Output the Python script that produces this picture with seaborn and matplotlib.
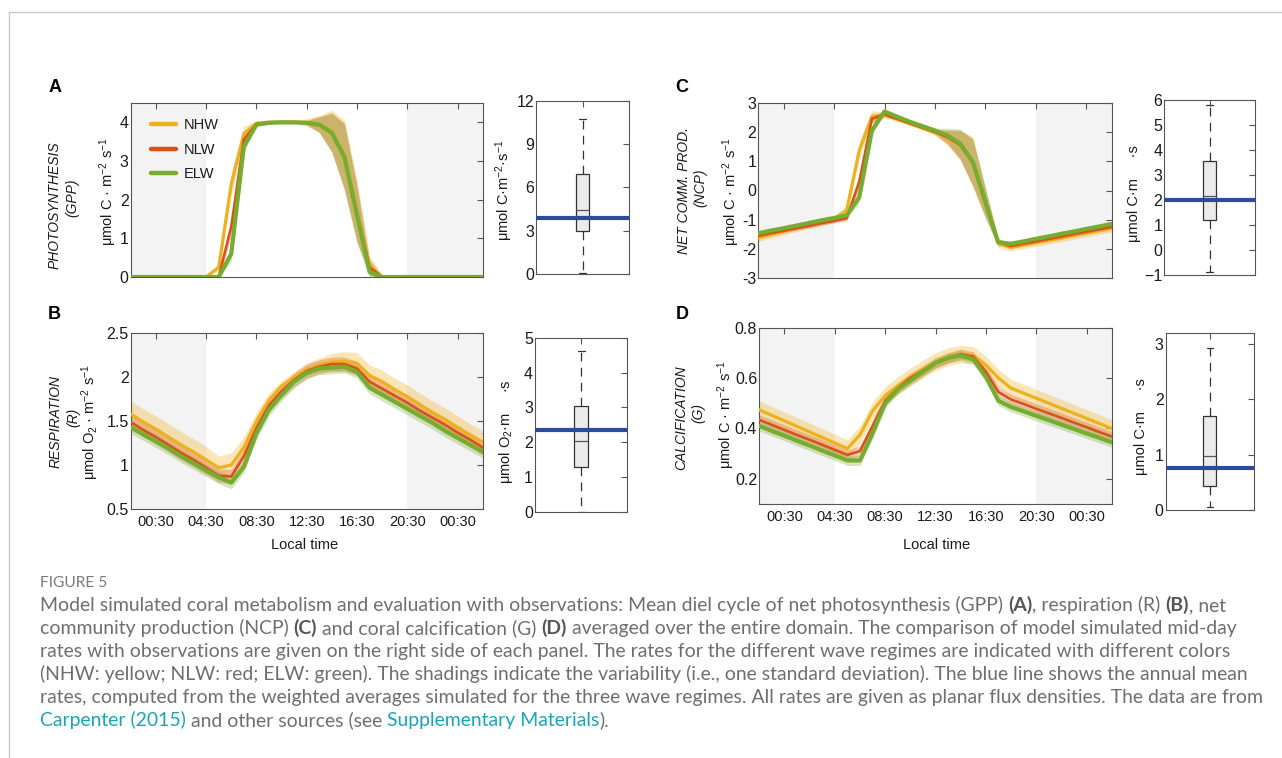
import numpy as np
import pandas as pd
import matplotlib
matplotlib.use("Agg")
import matplotlib.pyplot as plt
import seaborn as sns
from matplotlib.lines import Line2D
from matplotlib.font_manager import FontProperties

# ---------------- data ----------------
time_h = [-1.5, -0.5, 0.5, 1.5, 2.5, 3.5, 4.5, 5.5, 6.5, 7.5, 8.5, 9.5, 10.5, 11.5,
          12.5, 13.5, 14.5, 15.5, 16.5, 17.5, 18.5, 19.5, 20.5, 21.5, 22.5, 23.5,
          24.5, 25.5, 26.5]
xtick_pos = [0.5, 4.5, 8.5, 12.5, 16.5, 20.5, 24.5]
xtick_labels = ["00:30", "04:30", "08:30", "12:30", "16:30", "20:30", "00:30"]
regimes = ["NHW", "NLW", "ELW"]

# Photosynthesis (GPP)
gpp_nhw = [0, 0, 0, 0, 0, 0, 0, 0.25, 2.4, 3.7, 3.97, 4.0, 4.0, 4.0, 3.99, 3.95, 3.76,
           3.15, 1.7, 0.3, 0, 0, 0, 0, 0, 0, 0, 0, 0]
gpp_nlw = [0, 0, 0, 0, 0, 0, 0, 0, 1.3, 3.55, 3.95, 3.99, 4.0, 4.0, 3.99, 3.94, 3.74,
           3.12, 1.65, 0.25, 0, 0, 0, 0, 0, 0, 0, 0, 0]
gpp_elw = [0, 0, 0, 0, 0, 0, 0, 0, 0.6, 3.37, 3.93, 3.98, 3.99, 3.99, 3.98, 3.93, 3.72,
           3.1, 1.6, 0.13, 0, 0, 0, 0, 0, 0, 0, 0, 0]
gpp_sd_nhw = [0, 0, 0, 0, 0, 0, 0, 0.1, 0.3, 0.2, 0.05, 0.03, 0.03, 0.03, 0.1, 0.22,
              0.55, 0.9, 0.8, 0.25, 0.05, 0, 0, 0, 0, 0, 0, 0, 0]
gpp_sd_nlw = [0, 0, 0, 0, 0, 0, 0, 0.05, 0.25, 0.15, 0.04, 0.02, 0.02, 0.02, 0.06, 0.2,
              0.5, 0.85, 0.75, 0.2, 0.03, 0, 0, 0, 0, 0, 0, 0, 0]
gpp_sd_elw = [0, 0, 0, 0, 0, 0, 0, 0, 0.2, 0.15, 0.03, 0.02, 0.02, 0.02, 0.05, 0.2,
              0.5, 0.85, 0.7, 0.15, 0.02, 0, 0, 0, 0, 0, 0, 0, 0]

# Respiration (R)
r_nhw = [1.58, 1.49, 1.41, 1.32, 1.23, 1.15, 1.06, 0.97, 1.00, 1.20, 1.50, 1.74, 1.90,
         2.00, 2.09, 2.14, 2.17, 2.18, 2.16, 2.02, 1.95, 1.86, 1.78, 1.69, 1.60, 1.52,
         1.43, 1.34, 1.26]
r_nlw = [1.49, 1.40, 1.32, 1.23, 1.14, 1.06, 0.97, 0.88, 0.87, 1.10, 1.42, 1.68, 1.84,
         1.97, 2.07, 2.12, 2.15, 2.15, 2.10, 1.95, 1.87, 1.79, 1.71, 1.62, 1.54, 1.46,
         1.37, 1.29, 1.20]
r_elw = [1.43, 1.35, 1.27, 1.19, 1.10, 1.02, 0.94, 0.86, 0.80, 0.98, 1.36, 1.63, 1.80,
         1.95, 2.05, 2.10, 2.11, 2.12, 2.06, 1.88, 1.80, 1.72, 1.64, 1.56, 1.48, 1.39,
         1.31, 1.23, 1.15]
r_sd_nhw = [0.15, 0.15, 0.15, 0.15, 0.15, 0.15, 0.15, 0.13, 0.14, 0.12, 0.1, 0.08, 0.06,
            0.06, 0.07, 0.08, 0.1, 0.11, 0.12, 0.12, 0.13, 0.13, 0.13, 0.13, 0.13, 0.13,
            0.13, 0.13, 0.13]
r_sd_nlw = [0.08] * 29
r_sd_elw = [0.07] * 29

# Net community production (NCP)
ncp_nhw = [-1.62, -1.51, -1.40, -1.29, -1.18, -1.08, -0.97, -0.68, 1.37, 2.53, 2.58,
           2.43, 2.28, 2.13, 1.98, 1.80, 1.55, 0.98, -0.45, -1.80, -1.95, -1.87, -1.79,
           -1.71, -1.63, -1.54, -1.46, -1.38, -1.30]
ncp_nlw = [-1.55, -1.46, -1.38, -1.29, -1.21, -1.12, -1.04, -0.95, 0.30, 2.45, 2.60,
           2.45, 2.30, 2.15, 2.00, 1.82, 1.55, 0.95, -0.45, -1.75, -1.90, -1.82, -1.74,
           -1.66, -1.58, -1.49, -1.41, -1.33, -1.25]
ncp_elw = [-1.46, -1.37, -1.29, -1.20, -1.11, -1.02, -0.94, -0.85, -0.23, 2.05, 2.70,
           2.52, 2.35, 2.20, 2.05, 1.88, 1.60, 0.97, -0.40, -1.77, -1.82, -1.74, -1.65,
           -1.57, -1.48, -1.40, -1.31, -1.23, -1.14]
ncp_sd_nhw = [0.12] * 7 + [0.15, 0.3, 0.2, 0.1, 0.05, 0.05, 0.06, 0.1, 0.25, 0.5, 0.85,
                           0.5, 0.15, 0.12, 0.12, 0.12, 0.12, 0.12, 0.12, 0.12, 0.12, 0.12]
ncp_sd_nlw = [0.07] * 7 + [0.1, 0.25, 0.15, 0.08, 0.04, 0.04, 0.05, 0.08, 0.25, 0.5, 0.8,
                           0.5, 0.12, 0.07, 0.07, 0.07, 0.07, 0.07, 0.07, 0.07, 0.07, 0.07]
ncp_sd_elw = [0.07] * 7 + [0.08, 0.2, 0.15, 0.08, 0.04, 0.04, 0.05, 0.08, 0.25, 0.5, 0.8,
                           0.5, 0.12, 0.07, 0.07, 0.07, 0.07, 0.07, 0.07, 0.07, 0.07, 0.07]

# Calcification (G)
g_nhw = [0.474, 0.452, 0.430, 0.408, 0.386, 0.364, 0.342, 0.320, 0.375, 0.47, 0.53, 0.57,
         0.605, 0.635, 0.665, 0.685, 0.695, 0.69, 0.652, 0.60, 0.56, 0.54, 0.52, 0.50,
         0.48, 0.46, 0.44, 0.42, 0.40]
g_nlw = [0.434, 0.414, 0.394, 0.374, 0.355, 0.335, 0.315, 0.295, 0.31, 0.41, 0.51, 0.56,
         0.60, 0.63, 0.66, 0.68, 0.695, 0.685, 0.625, 0.545, 0.515, 0.497, 0.478, 0.460,
         0.442, 0.423, 0.405, 0.386, 0.368]
g_elw = [0.410, 0.390, 0.371, 0.351, 0.332, 0.312, 0.293, 0.273, 0.273, 0.38, 0.50, 0.556,
         0.59, 0.626, 0.66, 0.68, 0.69, 0.675, 0.605, 0.51, 0.485, 0.468, 0.450, 0.433,
         0.415, 0.398, 0.380, 0.363, 0.345]
g_sd_nhw = [0.035] * 29
g_sd_nlw = [0.02] * 29
g_sd_elw = [0.02] * 29

# Observations (box plots: min, q1, median, q3, max) and annual mean (blue line)
obs_gpp = [0.1, 3.0, 4.4, 6.9, 10.7]
obs_r = [0.0, 1.28, 2.03, 3.05, 4.63]
obs_ncp = [-0.89, 1.2, 2.16, 3.56, 5.8]
obs_g = [0.05, 0.43, 0.98, 1.7, 2.93]
annual_gpp, annual_r, annual_ncp, annual_g = 3.9, 2.35, 2.0, 0.75

# ---------------- style ----------------
sns.set_theme(style="white")
plt.rcParams["font.family"] = ["Liberation Sans", "DejaVu Sans"]
plt.rcParams["mathtext.fontset"] = "custom"
plt.rcParams["mathtext.rm"] = "Liberation Sans"
plt.rcParams["mathtext.it"] = "Liberation Sans:italic"
plt.rcParams["mathtext.bf"] = "Liberation Sans:bold"

W, H = 1282, 758
fig = plt.figure(figsize=(W / 100, H / 100), dpi=100)
fig.patch.set_facecolor("white")

COL = {"NHW": "#EDB120", "NLW": "#D95319", "ELW": "#77AC30"}
LW = {"NHW": 2.3, "NLW": 1.9, "ELW": 3.0}
BAND_A = {"NHW": 0.33, "NLW": 0.3, "ELW": 0.3}
NIGHT = "#F3F3F3"
SPINE = "#555555"
TXT = "#1a1a1a"
BLUE = "#2C4B9C"
TS = 10.5
YTS = 11.5


def add_ax(l, t, r, b):
    return fig.add_axes([l / W, 1 - b / H, (r - l) / W, (b - t) / H])


def style_axes(ax):
    for s in ax.spines.values():
        s.set_color(SPINE)
        s.set_linewidth(0.8)
        s.set_visible(True)
    ax.tick_params(direction="in", top=True, right=True, length=4, width=0.8,
                   color=SPINE, labelcolor=TXT)
    ax.tick_params(axis="x", labelsize=TS, pad=4)
    ax.tick_params(axis="y", labelsize=YTS, pad=1.5)


def line_panel(ax, series, sds, ylim, yticks, yticklabels, show_x):
    ax.axvspan(time_h[0], 4.5, color=NIGHT, lw=0, zorder=0)
    ax.axvspan(20.5, time_h[-1], color=NIGHT, lw=0, zorder=0)
    for reg in regimes:
        m = np.array(series[reg])
        s = np.array(sds[reg])
        ax.fill_between(time_h, m - s, m + s, color=COL[reg], alpha=BAND_A[reg],
                        lw=0, zorder=1)
    frames = []
    for reg in regimes:
        frames.append(pd.DataFrame({"time": time_h, "value": series[reg], "regime": reg}))
    df = pd.concat(frames)
    for i, reg in enumerate(regimes):
        sns.lineplot(data=df[df.regime == reg], x="time", y="value", color=COL[reg],
                     linewidth=LW[reg], ax=ax, legend=False, zorder=3 + i)
    ax.set_xlim(time_h[0], time_h[-1])
    ax.set_ylim(*ylim)
    ax.set_yticks(yticks)
    ax.set_yticklabels(yticklabels)
    ax.set_xticks(xtick_pos)
    ax.set_xticklabels(xtick_labels if show_x else [])
    ax.set_xlabel("")
    ax.set_ylabel("")
    style_axes(ax)


def box_panel(ax, obs, annual, ylim, yticks):
    sns.boxplot(y=obs, ax=ax, whis=(0, 100), width=0.15, color="#EBEBEB",
                linecolor="#333333", linewidth=0.9,
                whiskerprops={"linestyle": (0, (7, 5))},
                medianprops={"color": "#555555"})
    ax.axhline(annual, color=BLUE, lw=3.0, zorder=10)
    ax.set_xlim(-0.5, 0.5)
    ax.set_ylim(*ylim)
    ax.set_yticks(yticks)
    ax.set_xticks([0])
    ax.set_xticklabels([""])
    ax.set_ylabel("")
    ax.set_xlabel("")
    style_axes(ax)


# ---------------- panels ----------------
axA = add_ax(130.7, 102.7, 482.7, 277)
line_panel(axA, {"NHW": gpp_nhw, "NLW": gpp_nlw, "ELW": gpp_elw},
           {"NHW": gpp_sd_nhw, "NLW": gpp_sd_nlw, "ELW": gpp_sd_elw},
           (0, 4.5), [0, 1, 2, 3, 4], ["0", "1", "2", "3", "4"], False)
handles = [Line2D([], [], color=COL[r], lw=3.2) for r in regimes]
axA.legend(handles, regimes, loc="upper left", bbox_to_anchor=(0.02, 0.985),
           frameon=False, fontsize=TS, handlelength=1.75, labelspacing=0.72,
           handletextpad=0.5, labelcolor=TXT)

axB = add_ax(130.7, 333.3, 482.7, 509)
line_panel(axB, {"NHW": r_nhw, "NLW": r_nlw, "ELW": r_elw},
           {"NHW": r_sd_nhw, "NLW": r_sd_nlw, "ELW": r_sd_elw},
           (0.5, 2.5), [0.5, 1, 1.5, 2, 2.5], ["0.5", "1", "1.5", "2", "2.5"], True)

axC = add_ax(758.3, 102.7, 1111.7, 278.3)
line_panel(axC, {"NHW": ncp_nhw, "NLW": ncp_nlw, "ELW": ncp_elw},
           {"NHW": ncp_sd_nhw, "NLW": ncp_sd_nlw, "ELW": ncp_sd_elw},
           (-3, 3), [-3, -2, -1, 0, 1, 2, 3], ["-3", "-2", "-1", "0", "1", "2", "3"], False)

axD = add_ax(759.3, 327.7, 1111.7, 504)
line_panel(axD, {"NHW": g_nhw, "NLW": g_nlw, "ELW": g_elw},
           {"NHW": g_sd_nhw, "NLW": g_sd_nlw, "ELW": g_sd_elw},
           (0.1, 0.8), [0.2, 0.4, 0.6, 0.8], ["0.2", "0.4", "0.6", "0.8"], True)

bxA = add_ax(536, 100.7, 629, 274)
box_panel(bxA, obs_gpp, annual_gpp, (0, 12), [0, 3, 6, 9, 12])
bxB = add_ax(535, 337.7, 627.3, 512)
box_panel(bxB, obs_r, annual_r, (0, 5), [0, 1, 2, 3, 4, 5])
bxC = add_ax(1164.3, 100, 1255, 275)
box_panel(bxC, obs_ncp, annual_ncp, (-1, 6), [-1, 0, 1, 2, 3, 4, 5, 6])
bxD = add_ax(1165.7, 332.7, 1254, 510)
box_panel(bxD, obs_g, annual_g, (0, 3.2), [0, 1, 2, 3])


def ftext(x, y, s, **kw):
    return fig.text(x / W, 1 - y / H, s, **kw)


# axis labels
unit_c = "μmol C · m$^{-2}$ s$^{-1}$"
unit_o = "μmol O$_2$ · m$^{-2}$ s$^{-1}$"
lab = dict(rotation=90, ha="center", va="center", color=TXT, fontsize=TS)
cat = dict(rotation=90, ha="center", va="center", color=TXT, fontsize=10, style="italic")

ftext(55, 205, "PHOTOSYNTHESIS", **cat)
ftext(72, 198, "(GPP)", **cat)
ftext(108, 192, unit_c, **lab)

ftext(56, 421, "RESPIRATION", **cat)
ftext(73, 417, "(R)", **cat)
ftext(90, 422, unit_o, **lab)

ftext(684, 190, "NET COMM. PROD.", **cat)
ftext(700, 188, "(NCP)", **cat)
ftext(731, 192, unit_c, **lab)

ftext(681, 418, "CALCIFICATION", **cat)
ftext(698, 413, "(G)", **cat)
ftext(726, 415, unit_c, **lab)

ftext(504, 190, "μmol C·m$^{-2}$·s$^{-1}$", **lab)
ftext(506, 432, "μmol O$_2$·m     ·s", **lab)
ftext(1134, 194, "μmol C·m     ·s", **lab)
ftext(1141, 427, "μmol C·m     ·s", **lab)

ftext(305, 545, "Local time", ha="center", va="center", color=TXT, fontsize=TS)
ftext(937, 545, "Local time", ha="center", va="center", color=TXT, fontsize=TS)

for x, y, s in [(55, 88, "A"), (54, 315, "B"), (682, 87, "C"), (682, 315, "D")]:
    ftext(x, y, s, ha="center", va="center", color="black", fontsize=13,
          fontweight="bold")

# page frame lines
fig.add_artist(Line2D([9 / W, 1], [1 - 12 / H, 1 - 12 / H], color="#C8C8C8", lw=1.0))
fig.add_artist(Line2D([9 / W, 9 / W], [0, 1 - 12 / H], color="#C8C8C8", lw=1.0))

# ---------------- caption ----------------
CAP_FAM = ["Lato", "DejaVu Sans"]
CAP_COL = "#6E6E6E"
BOLD_COL = "#555555"
LINK = "#17A5B8"
renderer = fig.canvas.get_renderer()


def twidth(s, size, weight="normal"):
    fp = FontProperties(family=CAP_FAM, size=size, weight=weight)
    a = renderer.get_text_width_height_descent(s + "|", fp, False)[0]
    b = renderer.get_text_width_height_descent("|", fp, False)[0]
    return a - b


caption = [
    [("Model simulated coral metabolism and evaluation with observations: Mean diel cycle of net photosynthesis (GPP) ", "n"),
     ("(A)", "b"), (", respiration (R) ", "n"), ("(B)", "b"), (", net", "n")],
    [("community production (NCP) ", "n"), ("(C)", "b"), (" and coral calcification (G) ", "n"),
     ("(D)", "b"), (" averaged over the entire domain. The comparison of model simulated mid-day", "n")],
    [("rates with observations are given on the right side of each panel. The rates for the different wave regimes are indicated with different colors", "n")],
    [("(NHW: yellow; NLW: red; ELW: green). The shadings indicate the variability (i.e., one standard deviation). The blue line shows the annual mean", "n")],
    [("rates, computed from the weighted averages simulated for the three wave regimes. All rates are given as planar flux densities. The data are from", "n")],
    [("Carpenter (2015)", "l"), (" and other sources (see ", "n"), ("Supplementary Materials", "l"), (").", "n")],
]
line_right = [1245, 1262, 1238, 1243, 1262]


def seg_width(segs, size):
    return sum(twidth(t, size, "bold" if k == "b" else "normal") for t, k in segs)


base = 12.0
cap_size = min(base * (r - 40.0) / seg_width(caption[i], base)
               for i, r in enumerate(line_right))

ftext(40, 583, "FIGURE 5", ha="left", va="center", color="#7A7A7A",
      fontsize=cap_size * 0.8, family=CAP_FAM)

y0 = 611
for i, segs in enumerate(caption):
    x = 40.0
    y = y0 + 23 * i
    for t, k in segs:
        wt = "bold" if k == "b" else "normal"
        col = BOLD_COL if k == "b" else (LINK if k == "l" else CAP_COL)
        ftext(x, y, t, ha="left", va="baseline", color=col, fontsize=cap_size,
              fontweight=wt, family=CAP_FAM)
        x += twidth(t, cap_size, wt)

fig.savefig("out.png", dpi=100, facecolor="white")
